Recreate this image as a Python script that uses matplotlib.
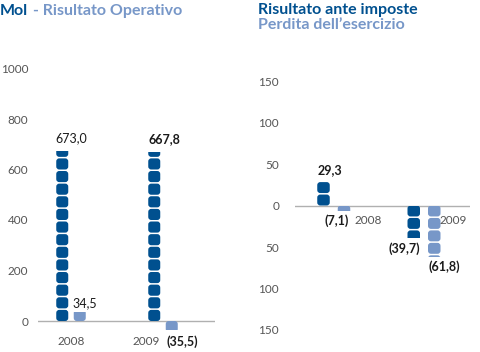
import math
import matplotlib
matplotlib.use("Agg")
import matplotlib.pyplot as plt
from matplotlib.patches import FancyBboxPatch, Rectangle

plt.rcParams['font.family'] = ['Lato', 'DejaVu Sans']

# ---------------- data ----------------
years = ["2008", "2009"]
mol = [673.0, 667.8]
risultato_operativo = [34.5, -35.5]
left_ticks = [0, 200, 400, 600, 800, 1000]

ante_imposte = [29.3, -39.7]
perdita = [-7.1, -61.8]
right_ticks = [-150, -100, -50, 0, 50, 100, 150]

DARK = "#00508f"
LIGHT = "#7797c8"
GRAY = "#555555"
LINE = "#b0b0b0"
TXT = "#1a1a1a"

W, H = 480, 352
fig = plt.figure(figsize=(W / 100, H / 100), dpi=100)


def add_px_axes(x0, x1):
    return fig.add_axes([x0 / W, 0, (x1 - x0) / W, 1])


def setup(ax, zero_px, px_per_unit, width_px):
    ax.set_xlim(0, width_px)
    ax.set_ylim(-(H - zero_px) / px_per_unit, zero_px / px_per_unit)
    for s in ax.spines.values():
        s.set_visible(False)
    ax.set_xticks([])
    ax.patch.set_alpha(0)
    ax.axhline(0, color=LINE, lw=1.0, zorder=1)


def pictobar(ax, x, value, unit, px_per_unit, color, width=12, gap_px=1.5, r=3.0):
    asp = 1.0 / px_per_unit
    gap = gap_px * asp
    n = int(math.ceil(abs(value) / unit))
    clip = Rectangle((x - width / 2 - 1, 0), width + 2, value)
    clip.set_transform(ax.transData)
    for k in range(n):
        if value >= 0:
            y0 = k * unit
        else:
            y0 = -(k + 1) * unit + gap
        p = FancyBboxPatch((x - width / 2, y0), width, unit - gap,
                           boxstyle=f"round,pad=0,rounding_size={r}",
                           mutation_aspect=asp, facecolor=color,
                           edgecolor="none", zorder=2)
        ax.add_patch(p)
        p.set_clip_path(clip)


def fmt(v):
    s = f"{abs(v):.1f}".replace(".", ",")
    return f"({s})" if v < 0 else s


# ---------------- left chart ----------------
L_ZERO, L_PPU = 321.0, 50.5 / 200
axL = add_px_axes(38, 215)
setup(axL, L_ZERO, L_PPU, 177)
axL.set_yticks(left_ticks)
axL.set_yticklabels([str(t) for t in left_ticks])
axL.tick_params(axis='y', length=0, pad=7, labelsize=8.5, labelcolor=GRAY)

l_centers = [33, 125]
off_l = 8.75
for i in range(2):
    pictobar(axL, l_centers[i] - off_l, mol[i], 50, L_PPU, DARK)
    pictobar(axL, l_centers[i] + off_l, risultato_operativo[i], 50, L_PPU, LIGHT)

axL.annotate(fmt(mol[0]), (l_centers[0], mol[0]), xytext=(0, 5), textcoords='offset points',
             ha='center', va='bottom', fontsize=9, color=TXT)
axL.annotate(fmt(mol[1]), (l_centers[1] + 1, mol[1]), xytext=(0, 5), textcoords='offset points',
             ha='center', va='bottom', fontsize=9, color=TXT, fontweight='bold')
axL.annotate(fmt(risultato_operativo[0]), (l_centers[0] + off_l + 5, risultato_operativo[0]),
             xytext=(0, 2), textcoords='offset points',
             ha='center', va='bottom', fontsize=9, color=TXT)
axL.annotate(years[0], (l_centers[0], 0), xytext=(0, -15), textcoords='offset points',
             ha='center', va='center', fontsize=8.5, color=GRAY)
axL.annotate(years[1], (l_centers[1] - 17, 0), xytext=(0, -15), textcoords='offset points',
             ha='center', va='center', fontsize=8.5, color=GRAY)
axL.annotate(fmt(risultato_operativo[1]), (l_centers[1] + 19, 0), xytext=(0, -15),
             textcoords='offset points', ha='center', va='center', fontsize=9,
             color=TXT, fontweight='bold')

# ---------------- right chart ----------------
R_ZERO, R_PPU = 205.5, 41.5 / 50
axR = add_px_axes(295, 470)
setup(axR, R_ZERO, R_PPU, 175)
axR.set_yticks(right_ticks)
axR.set_yticklabels([str(abs(t)) for t in right_ticks])
axR.tick_params(axis='y', length=0, pad=11.5, labelsize=8.5, labelcolor=GRAY)

r_centers = [38.75, 129]
off_r = 10.25
for i in range(2):
    pictobar(axR, r_centers[i] - off_r, ante_imposte[i], 15, R_PPU, DARK, width=12.5)
    pictobar(axR, r_centers[i] + off_r, perdita[i], 15, R_PPU, LIGHT, width=12.5)

axR.annotate(fmt(ante_imposte[0]), (r_centers[0] - off_r + 6.5, ante_imposte[0]),
             xytext=(0, 4), textcoords='offset points', ha='center', va='bottom',
             fontsize=9, color=TXT, fontweight='bold')
axR.annotate(fmt(perdita[0]), (r_centers[0] + off_r - 7, perdita[0]),
             xytext=(0, -7), textcoords='offset points', ha='center', va='center',
             fontsize=9, color=TXT, fontweight='bold')
axR.annotate(years[0], (r_centers[0] + 34, 0), xytext=(0, -11), textcoords='offset points',
             ha='center', va='center', fontsize=8.5, color=GRAY)
axR.annotate(years[1], (r_centers[1] + 29, 0), xytext=(0, -11), textcoords='offset points',
             ha='center', va='center', fontsize=8.5, color=GRAY)
axR.annotate(fmt(ante_imposte[1]), (r_centers[1] - off_r - 9, ante_imposte[1]),
             xytext=(0, -7), textcoords='offset points', ha='center', va='center',
             fontsize=9, color=TXT, fontweight='bold')
axR.annotate(fmt(perdita[1]), (r_centers[1] + off_r + 10, perdita[1]),
             xytext=(0, -7), textcoords='offset points', ha='center', va='center',
             fontsize=9, color=TXT, fontweight='bold')

# ---------------- titles ----------------
def ptext(x, y, s, **kw):
    fig.text(x / W, 1 - y / H, s, **kw)

ptext(0, 15, "Mol", fontsize=11.5, fontweight='bold', color=DARK, va='baseline', ha='left')
ptext(33, 15, "- Risultato Operativo", fontsize=11.5, fontweight='bold', color=LIGHT,
      va='baseline', ha='left')
ptext(258, 14, "Risultato ante imposte", fontsize=11.5, fontweight='bold', color=DARK,
      va='baseline', ha='left')
ptext(258, 29, "Perdita dell\u2019esercizio", fontsize=11.5, fontweight='bold', color=LIGHT,
      va='baseline', ha='left')

fig.savefig("out.png", dpi=100)
